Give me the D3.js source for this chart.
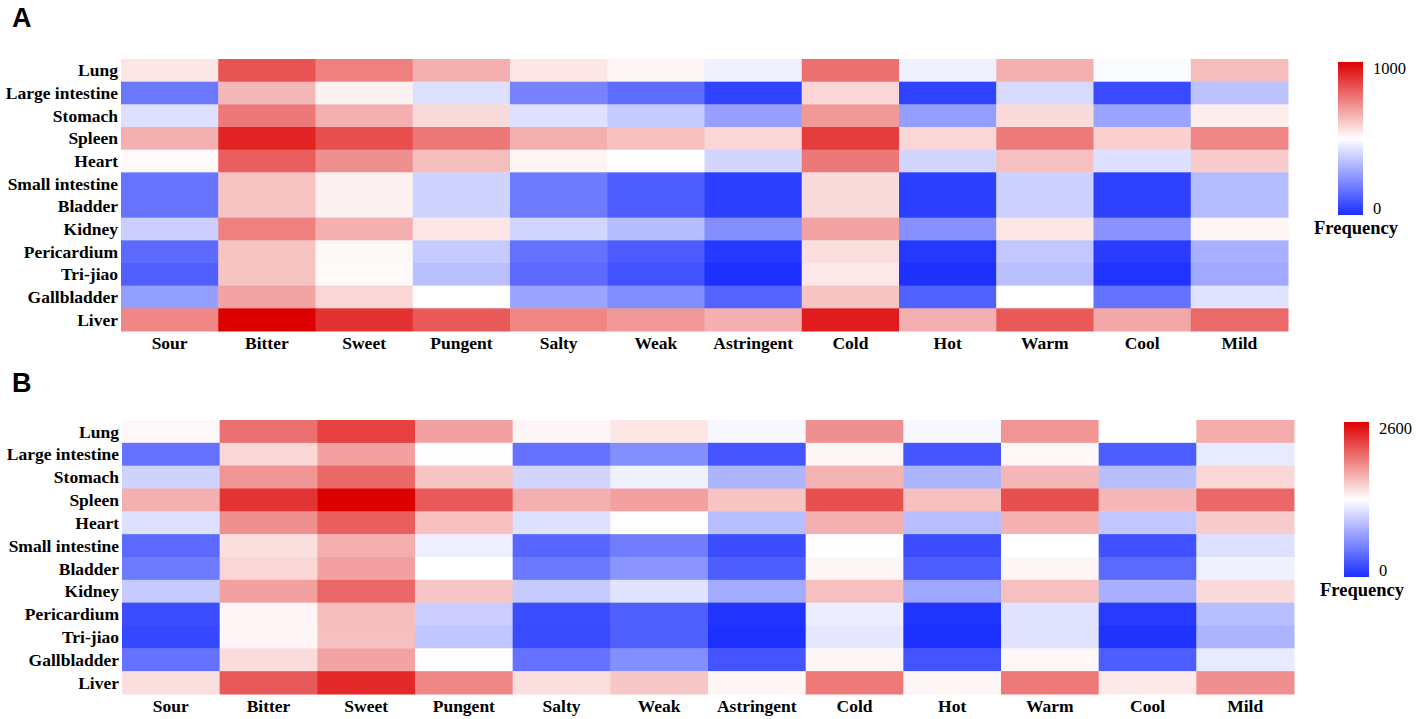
<!DOCTYPE html>
<html>
<head>
<meta charset="utf-8">
<script src="https://cdn.jsdelivr.net/npm/d3@7"></script>
<style>
  body { margin: 0; background: #fff; }
  svg text { fill: #000; }
  .lab { font-family: "Liberation Serif", "Times New Roman", serif; font-weight: bold; font-size: 17.5px; }
  .leglab { font-family: "Liberation Serif", "Times New Roman", serif; font-weight: bold; font-size: 18.5px; }
  .tick text { font-family: "Liberation Serif", "Times New Roman", serif; font-size: 16.5px; }
  .panel { font-family: "Liberation Sans", Arial, sans-serif; font-weight: bold; font-size: 27px; }
</style>
</head>
<body>
<div id="chart"></div>
<script>
// organs (rows) and tastes/natures (columns)
var organs = ["Lung", "Large intestine", "Stomach", "Spleen", "Heart", "Small intestine",
              "Bladder", "Kidney", "Pericardium", "Tri-jiao", "Gallbladder", "Liver"]
var props = ["Sour", "Bitter", "Sweet", "Pungent", "Salty", "Weak",
             "Astringent", "Cold", "Hot", "Warm", "Cool", "Mild"]

// panel A frequencies, one row per organ, columns as in props
var freqA = [
  [550, 835, 750, 655, 550, 520, 465, 780, 465, 655, 490, 630],
  [175, 640, 530, 425, 200, 145,  45, 580,  45, 410,  65, 355],
  [425, 765, 655, 570, 430, 375, 270, 700, 265, 570, 280, 535],
  [655, 930, 845, 765, 655, 625, 580, 880, 580, 760, 595, 735],
  [510, 815, 720, 630, 520, 500, 400, 765, 400, 625, 425, 600],
  [165, 620, 530, 395, 180, 110,  35, 570,  35, 390,  40, 335],
  [165, 620, 530, 395, 180, 110,  35, 570,  35, 390,  40, 335],
  [385, 750, 655, 550, 400, 340, 230, 680, 235, 550, 240, 520],
  [140, 620, 515, 375, 160, 105,  20, 565,  20, 365,  30, 310],
  [115, 615, 510, 345, 140,  85,   0, 545,   5, 345,  10, 290],
  [265, 680, 580, 500, 280, 225, 125, 615, 120, 500, 160, 435],
  [735, 1000, 905, 825, 735, 700, 655, 945, 655, 825, 670, 795]
]

// panel B frequencies
var freqB = [
  [1340, 2030, 2275, 1785, 1345, 1430, 1250, 1870, 1250, 1845, 1300, 1725],
  [ 415, 1510, 1785, 1290,  415,  595,  230, 1345,  230, 1340,  285, 1170],
  [1025, 1845, 2070, 1600, 1040, 1210,  835, 1680,  835, 1665,  895, 1510],
  [1705, 2340, 2600, 2145, 1705, 1785, 1600, 2195, 1620, 2195, 1665, 2070],
  [1105, 1870, 2120, 1620, 1110, 1290,  895, 1705,  885, 1695,  950, 1560],
  [ 360, 1460, 1715, 1195,  340,  485,  180, 1305,  180, 1300,  205, 1105],
  [ 470, 1510, 1785, 1300,  460,  635,  285, 1350,  285, 1345,  360, 1210],
  [ 970, 1785, 2070, 1590,  970, 1130,  775, 1620,  745, 1620,  805, 1495],
  [ 180, 1345, 1635,  990,  180,  300,   30, 1190,   25, 1130,   65,  895],
  [ 145, 1345, 1620,  940,  170,  300,    0, 1150,    0, 1130,   20,  835],
  [ 415, 1480, 1770, 1290,  415,  595,  230, 1345,  230, 1340,  285, 1170],
  [1470, 2145, 2395, 1915, 1470, 1590, 1350, 1985, 1350, 1985, 1410, 1870]
]

var maxA = 1000
var maxB = 2600

var svg = d3.select("#chart").append("svg")
    .attr("width", 1417)
    .attr("height", 719)

var low = "#1c30ff", mid = "#ffffff", high = "#dd0000"

function heatmap(opt) {
    var g = svg.append("g")

    var color = d3.scaleLinear()
        .domain([0, opt.max / 2, opt.max])
        .range([low, mid, high])

    var x = d3.scaleBand().domain(props).range([opt.left, opt.right])
    var y = d3.scaleBand().domain(organs).range([opt.top, opt.bottom])

    var cells = []
    opt.data.forEach(function(row, i) {
        row.forEach(function(v, j) {
            cells.push({organ: organs[i], prop: props[j], value: v})
        })
    })

    g.selectAll(".cell").data(cells)
        .enter().append("rect")
        .attr("class", "cell")
        .attr("x", function(d) { return x(d.prop) })
        .attr("y", function(d) { return y(d.organ) })
        .attr("width", x.bandwidth() + 0.5)
        .attr("height", y.bandwidth() + 0.5)
        .attr("fill", function(d) { return color(d.value) })

    // row labels
    g.selectAll(".rowlab").data(organs)
        .enter().append("text")
        .attr("class", "lab")
        .attr("x", opt.left - 3)
        .attr("y", function(d) { return y(d) + y.bandwidth() / 2 })
        .attr("dy", "0.35em")
        .attr("text-anchor", "end")
        .text(function(d) { return d })

    // column labels
    g.selectAll(".collab").data(props)
        .enter().append("text")
        .attr("class", "lab")
        .attr("x", function(d) { return x(d) + x.bandwidth() / 2 })
        .attr("y", opt.bottom + 18)
        .attr("text-anchor", "middle")
        .text(function(d) { return d })

    // panel letter
    g.append("text")
        .attr("class", "panel")
        .attr("x", 12)
        .attr("y", opt.letterY)
        .text(opt.letter)

    // legend
    var gid = "grad" + opt.letter
    var grad = svg.append("defs").append("linearGradient")
        .attr("id", gid)
        .attr("x1", "0").attr("y1", "1").attr("x2", "0").attr("y2", "0")
    d3.range(0, 1.0001, 0.1).forEach(function(t) {
        grad.append("stop")
            .attr("offset", t)
            .attr("stop-color", color(t * opt.max))
    })

    var ly = d3.scaleLinear().domain([0, opt.max]).range([opt.legBottom, opt.legTop])

    g.append("rect")
        .attr("x", opt.legX)
        .attr("y", opt.legTop)
        .attr("width", 25)
        .attr("height", opt.legBottom - opt.legTop)
        .attr("fill", "url(#" + gid + ")")

    var axis = g.append("g")
        .attr("transform", "translate(" + (opt.legX + 25) + ",0)")
        .call(d3.axisRight(ly).tickValues([0, opt.max]).tickFormat(d3.format("d"))
              .tickSize(0).tickPadding(10))
    axis.select(".domain").remove()
    axis.selectAll(".tick").each(function(d) {
        d3.select(this).select("text")
            .attr("dy", d == 0 ? "-0.1em" : "0.7em")
    })

    g.append("text")
        .attr("class", "leglab")
        .attr("x", opt.legX + 18)
        .attr("y", opt.legBottom + 19)
        .attr("text-anchor", "middle")
        .text("Frequency")
}

heatmap({letter: "A", letterY: 27, data: freqA, max: maxA,
         left: 121, right: 1288, top: 59, bottom: 331,
         legX: 1338, legTop: 62, legBottom: 215})

heatmap({letter: "B", letterY: 392, data: freqB, max: maxB,
         left: 122, right: 1294, top: 420, bottom: 694,
         legX: 1344, legTop: 422, legBottom: 577})
</script>
</body>
</html>
